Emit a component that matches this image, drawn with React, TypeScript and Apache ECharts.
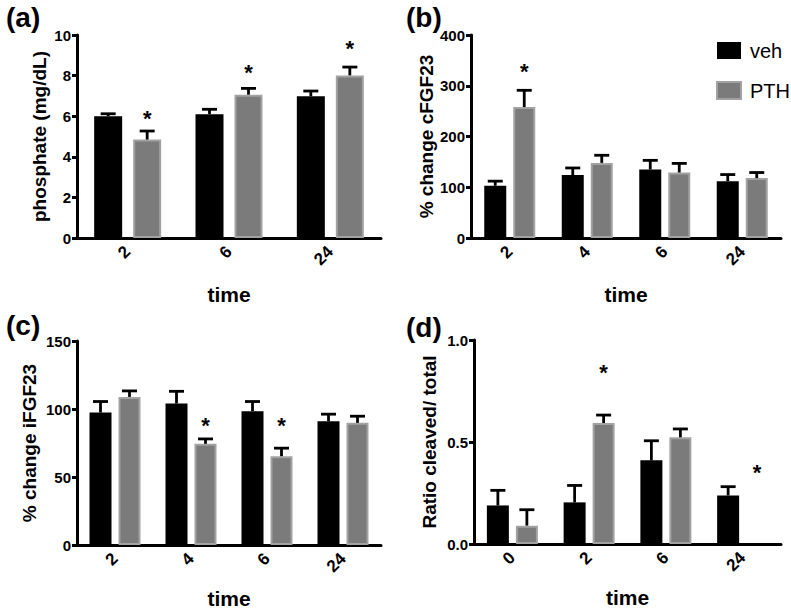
import React, { useEffect, useRef } from "react";
import * as echarts from "echarts";

// ---- data ----
const aCats = ["2", "6", "24"];
const aVeh = [6.0, 6.1, 6.98];
const aVehErr = [0.12, 0.24, 0.26];
const aPth = [4.85, 7.06, 8.01];
const aPthErr = [0.42, 0.31, 0.41];
const aStar = [6.16, 8.47, 9.64];

const bCats = ["2", "4", "6", "24"];
const bVeh = [103, 124, 135, 112];
const bVehErr = [9, 14, 18, 13];
const bPth = [258, 148, 129, 118];
const bPthErr = [33, 15, 18, 11];
const bStar = [339, null, null, null];

const cCats = ["2", "4", "6", "24"];
const cVeh = [97.4, 104, 98.4, 91];
const cVehErr = [8.1, 9, 7.1, 5.2];
const cPth = [108.9, 74.4, 65.3, 89.8];
const cPthErr = [4.4, 3.6, 5.9, 4.9];
const cStar = [null, 92.5, 92.5, null];

const dCats = ["0", "2", "6", "24"];
const dVeh = [0.189, 0.204, 0.41, 0.238];
const dVehErr = [0.074, 0.083, 0.096, 0.043];
const dPth = [0.09, 0.593, 0.523, null];
const dPthErr = [0.078, 0.039, 0.041, null];
const dStar = [null, 0.87, null, 0.38];

const FONT = "'Liberation Sans', Arial, Helvetica, sans-serif";
const PTH_FILL = "#7b7b7b";
const PTH_BORDER = "#a2a2a2";

type Panel = {
  cats: string[];
  veh: (number | null)[];
  vehErr: (number | null)[];
  pth: (number | null)[];
  pthErr: (number | null)[];
  star: (number | null)[];
  yName: string;
  max: number;
  interval: number;
  grid: { left: number; top: number; width: number; height: number };
  barWidth: number;
  gap: number;
  yNameGap: number;
  xNameGap: number;
  fmt?: (v: number) => string;
};

const panels: Panel[] = [
  {
    cats: aCats, veh: aVeh, vehErr: aVehErr, pth: aPth, pthErr: aPthErr, star: aStar,
    yName: "phosphate (mg/dL)", max: 10, interval: 2,
    grid: { left: 77, top: 35, width: 304, height: 203 },
    barWidth: 28, gap: 11, yNameGap: 28, xNameGap: 46,
  },
  {
    cats: bCats, veh: bVeh, vehErr: bVehErr, pth: bPth, pthErr: bPthErr, star: bStar,
    yName: "% change cFGF23", max: 400, interval: 100,
    grid: { left: 471, top: 35, width: 310, height: 203 },
    barWidth: 22, gap: 7, yNameGap: 34, xNameGap: 46,
  },
  {
    cats: cCats, veh: cVeh, vehErr: cVehErr, pth: cPth, pthErr: cPthErr, star: cStar,
    yName: "% change iFGF23", max: 150, interval: 50,
    grid: { left: 77, top: 341, width: 304, height: 204 },
    barWidth: 22, gap: 7, yNameGap: 38, xNameGap: 43,
  },
  {
    cats: dCats, veh: dVeh, vehErr: dVehErr, pth: dPth, pthErr: dPthErr, star: dStar,
    yName: "Ratio cleaved/ total", max: 1, interval: 0.5,
    grid: { left: 474, top: 340, width: 307, height: 204 },
    barWidth: 22, gap: 7, yNameGap: 35, xNameGap: 43,
    fmt: (v: number) => v.toFixed(1),
  },
];

const panelLabels = [
  { text: "(a)", x: 6, y: 3 },
  { text: "(b)", x: 406, y: 3 },
  { text: "(c)", x: 6, y: 311 },
  { text: "(d)", x: 406, y: 313 },
];

function errRender(offset: number, capHalf: number) {
  return (params: any, api: any) => {
    const v = api.value(1);
    const h = api.value(2);
    if (v == null || isNaN(v) || h == null || isNaN(h)) return null;
    const p0 = api.coord([api.value(0), v]);
    const p1 = api.coord([api.value(0), h]);
    const x = p0[0] + offset;
    return {
      type: "group",
      children: [
        { type: "line", shape: { x1: x, y1: p0[1], x2: x, y2: p1[1] }, style: { stroke: "#000", lineWidth: 2.8 } },
        { type: "line", shape: { x1: x - capHalf, y1: p1[1], x2: x + capHalf, y2: p1[1] }, style: { stroke: "#000", lineWidth: 2.8 } },
      ],
    };
  };
}

function buildOption() {
  const grid: any[] = [];
  const xAxis: any[] = [];
  const yAxis: any[] = [];
  const series: any[] = [];
  panels.forEach((p, gi) => {
    grid.push({ ...p.grid, containLabel: false });
    xAxis.push({
      type: "category",
      gridIndex: gi,
      data: p.cats,
      name: "time",
      nameLocation: "middle",
      nameGap: p.xNameGap,
      nameTextStyle: { fontFamily: FONT, fontWeight: "bold", fontSize: 21, color: "#000" },
      axisLine: { lineStyle: { color: "#000", width: 3 } },
      axisTick: { alignWithLabel: true, length: 6, lineStyle: { color: "#000", width: 3 } },
      axisLabel: { rotate: 45, margin: 11, fontFamily: FONT, fontWeight: "bold", fontSize: 17, color: "#000" },
      splitLine: { show: false },
    });
    yAxis.push({
      type: "value",
      gridIndex: gi,
      min: 0,
      max: p.max,
      interval: p.interval,
      name: p.yName,
      nameLocation: "middle",
      nameGap: p.yNameGap,
      nameTextStyle: { fontFamily: FONT, fontWeight: "bold", fontSize: 19, color: "#000" },
      axisLine: { show: true, lineStyle: { color: "#000", width: 3 } },
      axisTick: { show: true, length: 5, lineStyle: { color: "#000", width: 3 } },
      axisLabel: {
        margin: 6,
        fontFamily: FONT,
        fontWeight: "bold",
        fontSize: 15,
        color: "#000",
        formatter: p.fmt ? p.fmt : (v: number) => String(v),
      },
      splitLine: { show: false },
    });
    const barGap = (p.gap / p.barWidth) * 100 + "%";
    const off = (p.barWidth + p.gap) / 2;
    series.push({
      type: "bar",
      name: "veh",
      xAxisIndex: gi,
      yAxisIndex: gi,
      data: p.veh,
      barWidth: p.barWidth,
      barGap,
      itemStyle: { color: "#000" },
      z: 2,
    });
    series.push({
      type: "bar",
      name: "PTH",
      xAxisIndex: gi,
      yAxisIndex: gi,
      data: p.pth,
      barWidth: p.barWidth,
      barGap,
      itemStyle: { color: PTH_FILL, borderColor: PTH_BORDER, borderWidth: 2 },
      z: 2,
    });
    const vehErrData = p.cats
      .map((_, i) => (p.veh[i] == null ? null : [i, p.veh[i], (p.veh[i] as number) + (p.vehErr[i] as number)]))
      .filter((d) => d !== null);
    const pthErrData = p.cats
      .map((_, i) => (p.pth[i] == null ? null : [i, p.pth[i], (p.pth[i] as number) + (p.pthErr[i] as number)]))
      .filter((d) => d !== null);
    series.push({
      type: "custom",
      name: "vehErr",
      xAxisIndex: gi,
      yAxisIndex: gi,
      data: vehErrData,
      renderItem: errRender(-off, 7.5),
      z: 3,
      silent: true,
    });
    series.push({
      type: "custom",
      name: "pthErr",
      xAxisIndex: gi,
      yAxisIndex: gi,
      data: pthErrData,
      renderItem: errRender(off, 7.5),
      z: 3,
      silent: true,
    });
    const starData = p.cats
      .map((_, i) => (p.star[i] == null ? null : [i, p.star[i]]))
      .filter((d) => d !== null);
    series.push({
      type: "scatter",
      name: "star",
      xAxisIndex: gi,
      yAxisIndex: gi,
      data: starData,
      symbol: "circle",
      symbolSize: 1,
      itemStyle: { color: "rgba(0,0,0,0)" },
      label: {
        show: true,
        formatter: "*",
        position: "inside",
        offset: [off, 6],
        fontFamily: FONT,
        fontWeight: "bold",
        fontSize: 22,
        color: "#000",
        opacity: 1,
      },
      z: 4,
      silent: true,
    });
  });

  return {
    animation: false,
    backgroundColor: "#fff",
    textStyle: { fontFamily: FONT },
    legend: {
      data: ["veh", "PTH"],
      orient: "vertical",
      left: 716,
      top: 40,
      padding: 0,
      itemWidth: 24,
      itemHeight: 17,
      itemGap: 19,
      icon: "rect",
      selectedMode: false,
      textStyle: { fontFamily: FONT, fontSize: 20, color: "#000", lineHeight: 21, padding: [0, 0, 0, 4] },
    },
    grid,
    xAxis,
    yAxis,
    series,
    graphic: panelLabels.map((l) => ({
      type: "text",
      left: l.x,
      top: l.y,
      style: { text: l.text, fontFamily: FONT, fontWeight: "bold", fontSize: 28, fill: "#000" },
    })),
  };
}

export default function App() {
  const ref = useRef<HTMLDivElement>(null);
  useEffect(() => {
    document.body.style.margin = "0";
    if (!ref.current) return;
    const chart = echarts.init(ref.current, undefined, { renderer: "svg" });
    chart.setOption(buildOption() as any);
    return () => chart.dispose();
  }, []);
  return <div ref={ref} style={{ position: "absolute", left: 0, top: 0, width: 791, height: 610 }} />;
}
